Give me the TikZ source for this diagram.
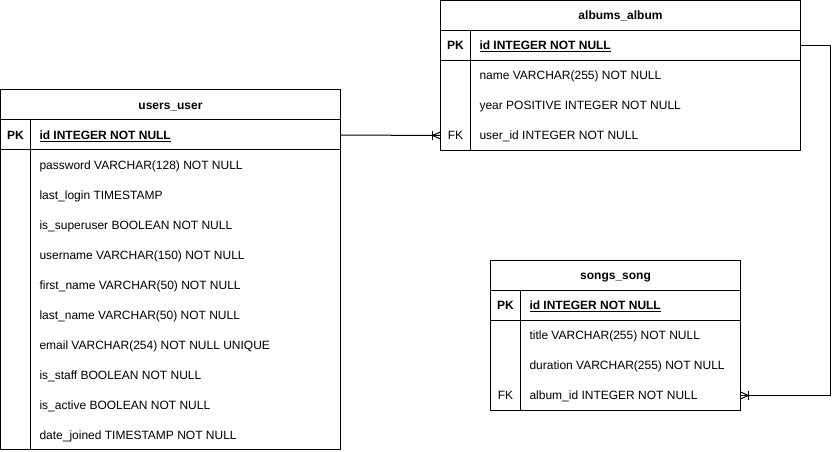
\documentclass[tikz,border=0pt]{standalone}
\usepackage{fontspec}
\setmainfont{Liberation Sans}
\begin{document}
\begin{tikzpicture}[x=0.75pt,y=-0.75pt, line width=0.75pt,
  tbl/.style={draw, rectangle, inner sep=0pt, outer sep=0pt, anchor=north west},
  rowbox/.style={rectangle, inner sep=0pt, outer sep=0pt, anchor=north west, minimum height=22.5pt},
  fld/.style={anchor=base west, inner sep=0pt, font=\fontsize{9pt}{11pt}\selectfont},
  keyf/.style={anchor=base, inner sep=0pt, font=\fontsize{9pt}{11pt}\selectfont},
  pkf/.style={anchor=base, inner sep=0pt, font=\fontsize{9pt}{11pt}\selectfont\bfseries},
  ttl/.style={anchor=base, inner sep=0pt, font=\fontsize{9pt}{11pt}\selectfont\bfseries}]
\useasboundingbox (0,0) rectangle (840,452);

% ---------- users_user ----------
\node[tbl, minimum width=255pt, minimum height=270pt] (users) at (0.5,90) {};
\draw (0.5,120) -- (340.5,120);
\draw (0.5,150) -- (340.5,150);
\draw (30.5,120) -- (30.5,450);
\node[ttl] (uttl) at (170.5,109.5) {users\_user};
\node[rowbox, minimum width=255pt] (upk) at (0.5,120) {};
\node[pkf] (upkk) at (15.5,139.5) {PK};
\node[fld] (upkf) at (39,139.5) {\bfseries\underline{id INTEGER NOT NULL}};
\node[fld] (u1) at (39,169.5) {password VARCHAR(128) NOT NULL};
\node[fld] (u2) at (39,199.5) {last\_login TIMESTAMP};
\node[fld] (u3) at (39,229.5) {is\_superuser BOOLEAN NOT NULL};
\node[fld] (u4) at (39,259.5) {username VARCHAR(150) NOT NULL};
\node[fld] (u5) at (39,289.5) {first\_name VARCHAR(50) NOT NULL};
\node[fld] (u6) at (39,319.5) {last\_name VARCHAR(50) NOT NULL};
\node[fld] (u7) at (39,349.5) {email VARCHAR(254) NOT NULL UNIQUE};
\node[fld] (u8) at (39,379.5) {is\_staff BOOLEAN NOT NULL};
\node[fld] (u9) at (39,409.5) {is\_active BOOLEAN NOT NULL};
\node[fld] (u10) at (39,439.5) {date\_joined TIMESTAMP NOT NULL};

% ---------- albums_album ----------
\node[tbl, minimum width=270pt, minimum height=112.5pt] (albums) at (440.5,0.5) {};
\draw (440.5,30.5) -- (800.5,30.5);
\draw (440.5,60.5) -- (800.5,60.5);
\draw (470.5,30.5) -- (470.5,150.5);
\node[ttl] (attl) at (620.5,19.5) {albums\_album};
\node[rowbox, minimum width=270pt] (apk) at (440.5,30.5) {};
\node[rowbox, minimum width=270pt] (afk) at (440.5,120.5) {};
\node[pkf] (apkk) at (455.5,49.5) {PK};
\node[fld] (apkf) at (479,49.5) {\bfseries\underline{id INTEGER NOT NULL}};
\node[fld] (a1) at (479,79.5) {name VARCHAR(255) NOT NULL};
\node[fld] (a2) at (479,109.5) {year POSITIVE INTEGER NOT NULL};
\node[keyf] (afkk) at (455.5,139.5) {FK};
\node[fld] (a3) at (479,139.5) {user\_id INTEGER NOT NULL};

% ---------- songs_song ----------
\node[tbl, minimum width=187.5pt, minimum height=112.5pt] (songs) at (490.5,260.5) {};
\draw (490.5,290.5) -- (740.5,290.5);
\draw (490.5,320.5) -- (740.5,320.5);
\draw (520.5,290.5) -- (520.5,410.5);
\node[ttl] (sttl) at (615.5,279.5) {songs\_song};
\node[rowbox, minimum width=187.5pt] (sfk) at (490.5,380.5) {};
\node[pkf] (spkk) at (505.5,309.5) {PK};
\node[fld] (spkf) at (529,309.5) {\bfseries\underline{id INTEGER NOT NULL}};
\node[fld] (s1) at (529,339.5) {title VARCHAR(255) NOT NULL};
\node[fld] (s2) at (529,369.5) {duration VARCHAR(255) NOT NULL};
\node[keyf] (sfkk) at (505.5,399.5) {FK};
\node[fld] (s3) at (529,399.5) {album\_id INTEGER NOT NULL};

% ---------- relations ----------
\draw (upk.east) -- (afk.west);
\draw (afk.west) ++(-8,0) -- ++(8,-3.5) (afk.west) ++(-8,0) -- ++(8,3.5);
\draw (afk.west) ++(-8,-4.5) -- ++(0,9);

\draw (apk.east) -- ++(30,0) |- (sfk.east);
\draw (sfk.east) ++(8,0) -- ++(-8,-3.5) (sfk.east) ++(8,0) -- ++(-8,3.5);
\draw (sfk.east) ++(8,-4.5) -- ++(0,9);
\end{tikzpicture}
\end{document}
